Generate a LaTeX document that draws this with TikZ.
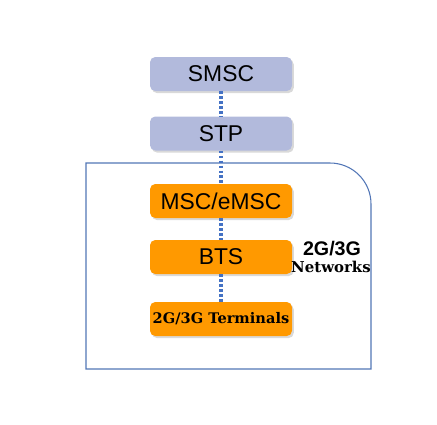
\documentclass[tikz,border=0pt]{standalone}
\usepackage{fontspec}
\setmainfont{Liberation Sans}
\newfontfamily\labelserif{DejaVu Serif}
\usepackage{tikz}
\usetikzlibrary{shadows}
\usepackage{xcolor}
\definecolor{core}{RGB}{178,186,220}
\definecolor{access}{RGB}{255,153,0}
\definecolor{link}{RGB}{68,114,196}
\definecolor{frame}{RGB}{82,118,182}

\tikzset{
  netbox/.style = {rounded corners=3pt, minimum width=2.84cm, minimum height=0.68cm,
                   inner sep=0pt, font=\fontsize{13}{15}\selectfont,
                   drop shadow={shadow xshift=1pt, shadow yshift=-1.2pt, opacity=0.3}},
  corebox/.style = {netbox, fill=core},
  accessbox/.style = {netbox, fill=access},
  dotlink/.style = {link, line width=1.8pt, dash pattern=on 1.5pt off 1.3pt}
}

\begin{document}
\begin{tikzpicture}
            \useasboundingbox (0,0) rectangle (8.74,-8.48);
            \draw[frame, line width=0.6pt] (1.72,-7.38) -- (1.72,-3.26) -- (6.60,-3.26)
              arc[start angle=90, end angle=0, radius=0.82] -- (7.42,-7.38) -- cycle;
            \node[corebox] (smsc) at (4.42,-1.48) {SMSC};
            \node[corebox] (stp) at (4.42,-2.67) {STP};
            \node[accessbox] (msc) at (4.42,-4.02) {MSC/eMSC};
            \node[accessbox] (bts) at (4.42,-5.14) {BTS};
            \node[accessbox, font=\labelserif\bfseries\fontsize{8.3}{10}\selectfont] (term) at (4.42,-6.38) {2G/3G Terminals};
            \draw[dotlink] (smsc) -- (stp);
            \draw[dotlink] (stp) -- (msc);
            \draw[dotlink] (msc) -- (bts);
            \draw[dotlink] (bts) -- (term);
            \node[font=\bfseries\fontsize{11.2}{13}\selectfont, inner sep=0pt] (gen) at (6.64,-4.98) {2G/3G};
            \node[font=\labelserif\bfseries\fontsize{8.5}{10}\selectfont, inner sep=0pt] (nets) at (6.62,-5.34) {Networks};
        \end{tikzpicture}
\end{document}
